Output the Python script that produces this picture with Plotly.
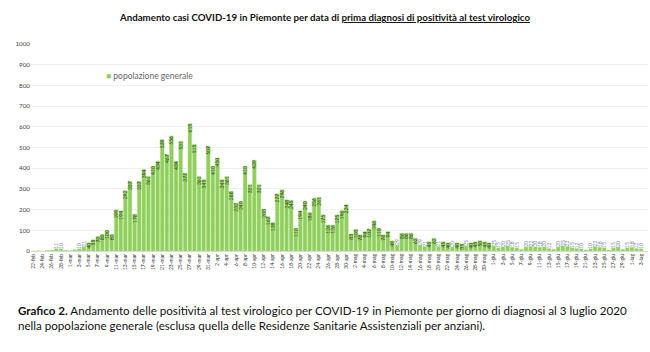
import datetime as dt
import plotly.graph_objects as go

MESI = {2: "feb", 3: "mar", 4: "apr", 5: "mag", 6: "giu", 7: "lug"}

start = dt.date(2020, 2, 22)
casi = [
    0, 1, 0, 3, 4, 11, 10, 3, 2, 6, 10,
    21, 40, 55, 70, 80, 100, 80, 199, 194, 292,
    337, 178, 337, 394, 361, 410, 434, 539, 467, 556,
    434, 531, 377, 615, 515, 361, 345, 507, 410, 450,
    345, 361, 288, 232, 240, 410, 321, 439, 321, 203,
    167, 138, 277, 296, 248, 245, 110, 194, 240, 186,
    256, 261, 175, 126, 126, 175, 196, 224, 83, 105,
    78, 94, 107, 146, 110, 78, 94, 49, 29, 86,
    86, 86, 62, 29, 21, 45, 62, 21, 45, 40,
    20, 40, 35, 25, 40, 45, 50, 45, 40, 25,
    15, 20, 25, 18, 15, 8, 20, 22, 20, 18,
    20, 12, 8, 20, 25, 22, 15, 12, 10, 5,
    10, 22, 18, 15, 5, 15, 20, 8, 15, 18,
    12, 10,
]
giorni = [start + dt.timedelta(days=i) for i in range(len(casi))]
etichette = [f"{d.day}-{MESI[d.month]}" for d in giorni]
idx = list(range(len(casi)))

FONT = "Lato"
GREEN = "#8fcf5c"
pos = ["inside" if v >= 35 else "outside" for v in casi]
testi = [str(v) if v >= 10 else "" for v in casi]

fig = go.Figure()
fig.add_trace(go.Bar(
    x=idx, y=casi, name="popolazione generale", showlegend=False,
    marker=dict(color=GREEN, line=dict(color="#b5e08f", width=0.4)),
    text=testi, textposition=pos, textangle=-90,
    insidetextanchor="end",
    insidetextfont=dict(size=5, color="#2f4a1c", family=FONT),
    outsidetextfont=dict(size=5, color="#6a7e9a", family=FONT),
    cliponaxis=False,
))

fig.update_layout(
    width=650, height=352,
    margin=dict(l=31, r=2, t=44, b=101),
    paper_bgcolor="white", plot_bgcolor="white",
    bargap=0.18,
    uniformtext=dict(minsize=5, mode="show"),
    showlegend=False,
    font=dict(family=FONT),
    title=dict(
        text="<b>Andamento casi COVID-19 in Piemonte per data di <u>prima diagnosi di positività al test virologico</u></b>",
        x=0.5, xanchor="center", y=0.95, yanchor="middle",
        font=dict(size=9.7, color="#111", family=FONT),
    ),
    xaxis=dict(
        range=[-0.5, len(casi) + 0.5],
        tickmode="array", tickvals=idx[::2], ticktext=etichette[::2],
        tickangle=-90, tickfont=dict(size=5, color="#333", family=FONT),
        showgrid=False, zeroline=False, showline=True, linecolor="#d9d9d9", linewidth=1,
        ticks="",
    ),
    yaxis=dict(
        range=[0, 1000], dtick=100, tickfont=dict(size=6.3, color="#444", family=FONT),
        showgrid=True, gridcolor="#f0f0f0", gridwidth=1, zeroline=False, ticks="",
    ),
)

# legend entry
fig.add_annotation(
    xref="paper", yref="paper", x=0.118, y=0.845, xanchor="left", yanchor="middle",
    showarrow=False,
    text=f"<span style='color:{GREEN}'>■</span> popolazione generale",
    font=dict(size=8.5, color="#666", family=FONT),
)

fig.add_annotation(
    xref="paper", yref="paper", x=-0.024, y=-0.245, xanchor="left", yanchor="top",
    align="left", showarrow=False,
    text=("<b>Grafico 2.</b> Andamento delle positività al test virologico per COVID-19 in Piemonte per giorno di diagnosi al 3 luglio 2020"
          "<br>nella popolazione generale (esclusa quella delle Residenze Sanitarie Assistenziali per anziani)."),
    font=dict(size=11.6, color="#111", family=FONT),
)

fig.write_html("out.html")
